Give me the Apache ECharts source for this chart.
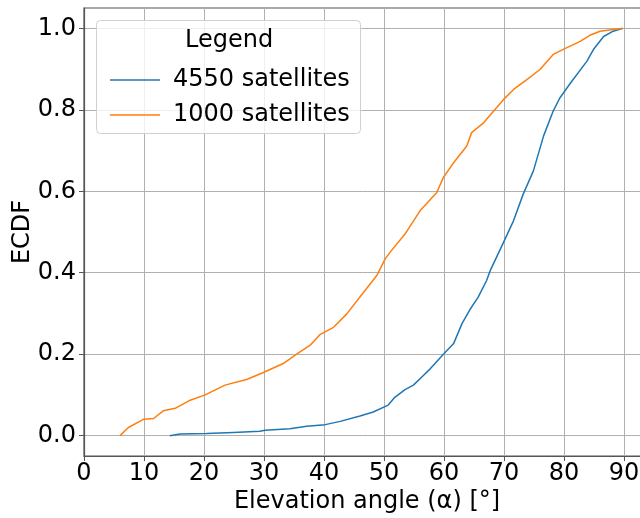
<!DOCTYPE html>
<html><head><meta charset="utf-8">
<script src="https://cdn.jsdelivr.net/npm/echarts@6/dist/echarts.min.js"></script>
<style>html,body{margin:0;padding:0;background:#fff}#c{width:640px;height:518px}</style>
</head><body><div id="c"></div>
<script>
const seriesNames = ["4550 satellites", "1000 satellites"];
const xTicks = [0, 10, 20, 30, 40, 50, 60, 70, 80, 90];
const yTicks = [0.0, 0.2, 0.4, 0.6, 0.8, 1.0];

const blueX = [14.3,16,20.4,24.9,29.3,30.2,34.3,37.1,40.2,42.7,46,48.2,50.7,51.8,53.5,54.9,56.3,57.7,59.9,61.6,63,64.3,65.7,67.1,67.7,69.9,71.6,73.2,74.9,76.6,78.2,79.3,81.3,83.8,84.9,86.6,88.2,89.8];
const blueY = [0,0.004,0.005,0.008,0.011,0.013,0.017,0.023,0.027,0.035,0.048,0.058,0.075,0.094,0.113,0.124,0.144,0.164,0.2,0.226,0.275,0.309,0.340,0.381,0.405,0.474,0.528,0.593,0.650,0.736,0.797,0.829,0.870,0.919,0.948,0.980,0.993,1.0];

const orangeX = [6,7.4,9.9,11.6,13.2,15.2,17.7,20.2,23.5,27.1,29.9,33.2,35.5,37.7,39.3,41.6,43.8,46.6,48.8,50.2,51,53.5,56,58.8,59.9,61.6,63.8,64.6,66.6,68.5,69.9,71.6,73.8,76,78.2,80.4,82.7,84.3,86,89.8];
const orangeY = [0,0.02,0.04,0.042,0.061,0.067,0.087,0.10,0.124,0.138,0.155,0.177,0.201,0.222,0.248,0.266,0.299,0.352,0.393,0.434,0.45,0.495,0.552,0.597,0.634,0.670,0.711,0.744,0.768,0.801,0.825,0.850,0.874,0.899,0.936,0.952,0.968,0.983,0.993,1.0];

const zip = (a, b) => a.map((v, i) => [v, b[i]]);
const font = 'DejaVu Sans';
const spine = '#555';
const chart = echarts.init(document.getElementById('c'), null, {renderer: 'canvas'});
chart.setOption({
  animation: false,
  backgroundColor: '#fff',
  textStyle: {fontFamily: font},
  grid: {left: 84, top: 8, bottom: 62, right: -2, containLabel: false, outerBoundsMode: 'none',
    show: true, borderColor: spine, borderWidth: 1.2, backgroundColor: 'transparent'},
  xAxis: {
    type: 'value', min: 0, max: 93,
    name: 'Elevation angle (α) [°]', nameLocation: 'middle', nameGap: 34, nameMoveOverlap: false,
    nameTextStyle: {fontSize: 24, color: '#000', fontFamily: font, padding: [0, 0, 0, 8]},
    axisLine: {show: true, onZero: false, lineStyle: {color: spine, width: 1.2}},
    axisTick: {show: true, length: 5, lineStyle: {color: spine}, customValues: xTicks},
    axisLabel: {fontSize: 24, color: '#000', margin: 6, fontFamily: font, customValues: xTicks},
    splitLine: {show: true, lineStyle: {color: '#b0b0b0', width: 1}}
  },
  yAxis: {
    type: 'value', min: -0.05, max: 1.05,
    name: 'ECDF', nameLocation: 'middle', nameGap: 49, nameMoveOverlap: false,
    nameTextStyle: {fontSize: 24, color: '#000', fontFamily: font},
    axisLine: {show: true, onZero: false, lineStyle: {color: spine, width: 1.2}},
    axisTick: {show: true, length: 5, lineStyle: {color: spine}, customValues: yTicks},
    axisLabel: {fontSize: 24, color: '#000', margin: 8, fontFamily: font,
      customValues: yTicks, formatter: v => v.toFixed(1)},
    splitLine: {show: true, lineStyle: {color: '#b0b0b0', width: 1}}
  },
  legend: {
    orient: 'vertical', left: 105, top: 61, z: 60,
    icon: 'rect', itemWidth: 50, itemHeight: 1.6, itemGap: 7,
    textStyle: {fontSize: 24, color: '#000', fontFamily: font, padding: [0, 0, 0, 8], lineHeight: 28},
    data: seriesNames
  },
  graphic: [
    {type: 'rect', left: 96, top: 20, z: 50,
      shape: {width: 264, height: 113, r: 4},
      style: {fill: 'rgba(255,255,255,0.8)', stroke: '#d0d0d0', lineWidth: 1}},
    {type: 'text', left: 185, top: 29, z: 51,
      style: {text: 'Legend', fontSize: 24, fontFamily: font, fill: '#000'}}
  ],
  series: [
    {name: seriesNames[0], type: 'line', data: zip(blueX, blueY), showSymbol: false, symbol: 'none',
      lineStyle: {color: '#1f77b4', width: 1.5}, itemStyle: {color: '#1f77b4'}, z: 3},
    {name: seriesNames[1], type: 'line', data: zip(orangeX, orangeY), showSymbol: false, symbol: 'none',
      lineStyle: {color: '#ff7f0e', width: 1.5}, itemStyle: {color: '#ff7f0e'}, z: 4}
  ]
});
</script></body></html>
